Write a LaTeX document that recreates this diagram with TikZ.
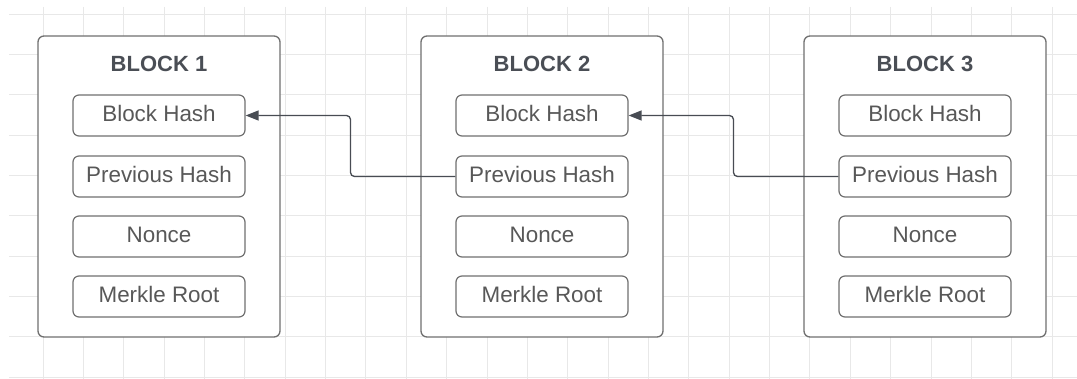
\documentclass[tikz,border=0pt]{standalone}
\usepackage{fontspec}
\setmainfont{Liberation Sans}
\usetikzlibrary{arrows.meta,calc}

\definecolor{gridgray}{HTML}{E8E8E8}
\definecolor{boxgray}{HTML}{707070}
\definecolor{textgray}{HTML}{585858}
\definecolor{titlegray}{HTML}{4A4E55}
\definecolor{linkgray}{HTML}{484C53}

\tikzset{
  blockbox/.style={draw=boxgray, line width=1.3pt, rounded corners=6pt, fill=white,
                   minimum width=242pt, minimum height=301pt, inner sep=0pt},
  field/.style={draw=boxgray, line width=1.2pt, rounded corners=6pt, fill=white,
                minimum width=172pt, minimum height=41pt, inner sep=0pt},
  fieldtext/.style={text=textgray, font=\fontsize{22.4}{24}\selectfont, inner sep=0pt},
  blocktitle/.style={text=titlegray, font=\fontsize{22}{24}\selectfont\bfseries, inner sep=0pt},
  link/.style={draw=linkgray, line width=1.3pt, rounded corners=4pt,
               -{Triangle[length=13pt,width=10pt]}},
}

\begin{document}
\begin{tikzpicture}[x=1pt, y=-1pt]
  % canvas and background grid
  \fill[white] (0,0) rectangle (1077,379);
  \useasboundingbox (0,0) rectangle (1077,379);
  \foreach \k in {0,...,25} {
    \draw[gridgray, line width=0.8pt] ({43+40.36*\k},7) -- ({43+40.36*\k},379);
  }
  \foreach \k in {0,...,9} {
    \draw[gridgray, line width=0.8pt] (9,{14+40.36*\k}) -- (1077,{14+40.36*\k});
  }

  % three blocks, each with a title and four fields
  \foreach \i/\cx in {1/159, 2/542, 3/925} {
    \node[blockbox] (b\i) at (\cx,186.5) {};
    \node[blocktitle] (t\i) at (\cx,64) {BLOCK \i};
    \foreach \f/\cy/\label in {h/115.5/Block Hash, p/176.5/Previous Hash,
                               n/236.5/Nonce, r/296.5/Merkle Root} {
      \node[field] (\f\i) at (\cx,\cy) {};
      \node[fieldtext] (\f\i t) at ([yshift=2pt]\f\i.center) {\label};
    }
  }

  % each block's previous hash points back to the earlier block's hash
  \coordinate (m12) at ($(b1.east)!0.5!(b2.west)$);
  \coordinate (m23) at ($(b2.east)!0.5!(b3.west)$);
  \draw[link] (p2.west) -- (p2.west -| m12) -- (m12 |- h1.east) -- (h1.east);
  \draw[link] (p3.west) -- (p3.west -| m23) -- (m23 |- h2.east) -- (h2.east);
\end{tikzpicture}
\end{document}
